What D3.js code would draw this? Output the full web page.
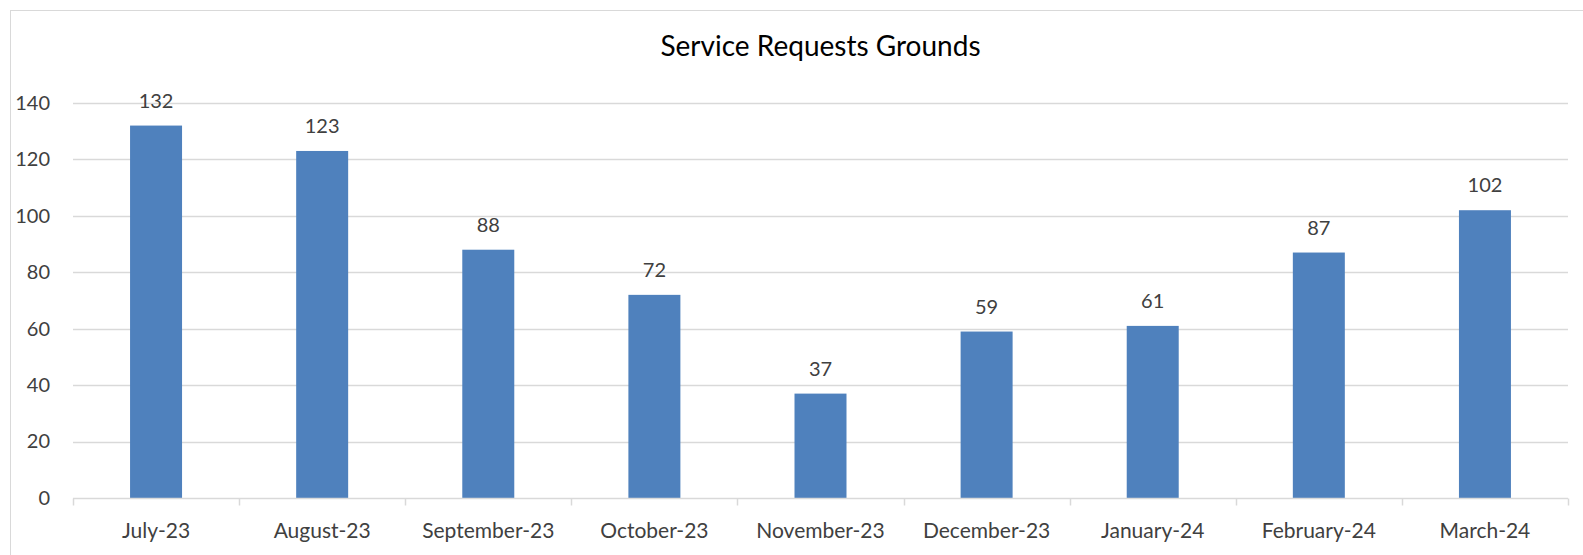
<!DOCTYPE html>
<html>
<head>
<meta charset="utf-8">
<script src="https://cdn.jsdelivr.net/npm/d3@7"></script>
<style>
  html, body { margin: 0; padding: 0; background: #fff; }
  svg { display: block; font-family: Lato, "Open Sans", sans-serif; }
</style>
</head>
<body>
<div id="viz"></div>
<script>
const months = ['July-23', 'August-23', 'September-23', 'October-23', 'November-23',
  'December-23', 'January-24', 'February-24', 'March-24'];
const requests = [132, 123, 88, 72, 37, 59, 61, 87, 102];
const yTicks = [0, 20, 40, 60, 80, 100, 120, 140];
const chartTitle = 'Service Requests Grounds';

const width = 1583;
const height = 555;
const margin = {top: 103, right: 15, bottom: 57, left: 73};
const barColor = '#4f81bd';
const gridColor = '#d9d9d9';
const textColor = '#404040';

const data = months.map((m, i) => ({month: m, value: requests[i]}));

const svg = d3.select('#viz')
  .append('svg')
  .attr('width', width)
  .attr('height', height);

// chart frame
svg.append('rect')
  .attr('x', 10.5)
  .attr('y', 10.5)
  .attr('width', width)
  .attr('height', height)
  .attr('fill', 'none')
  .attr('stroke', gridColor);

const xScale = d3.scaleBand()
  .domain(months)
  .range([margin.left, width - margin.right])
  .paddingInner(0.687)
  .paddingOuter(0.3435);

const yScale = d3.scaleLinear()
  .domain([0, 140])
  .range([height - margin.bottom, margin.top]);

// gridlines
svg.append('g')
  .selectAll('line')
  .data(yTicks.filter(d => d > 0))
  .join('line')
    .attr('x1', margin.left)
    .attr('x2', width - margin.right)
    .attr('y1', d => Math.round(yScale(d)) + 0.5)
    .attr('y2', d => Math.round(yScale(d)) + 0.5)
    .attr('stroke', gridColor)
    .attr('stroke-width', 1.5);

// y axis labels
const yAxis = svg.append('g')
  .attr('transform', `translate(${margin.left}, 0)`)
  .call(d3.axisLeft(yScale).tickValues(yTicks).tickSize(0).tickPadding(23));
yAxis.select('.domain').remove();
yAxis.selectAll('text')
  .attr('fill', textColor)
  .style('font-size', '20px')
  .style('font-family', 'Lato, sans-serif');

// bars
svg.append('g')
  .selectAll('rect')
  .data(data)
  .join('rect')
    .attr('x', d => xScale(d.month))
    .attr('y', d => yScale(d.value))
    .attr('width', xScale.bandwidth())
    .attr('height', d => yScale(0) - yScale(d.value))
    .attr('fill', barColor);

// x axis with category ticks between bands
const xAxisG = svg.append('g')
  .attr('transform', `translate(0, ${Math.round(yScale(0)) + 0.5})`);
xAxisG.append('line')
  .attr('x1', margin.left)
  .attr('x2', width - margin.right)
  .attr('stroke', gridColor)
  .attr('stroke-width', 1.5);
const step = xScale.step();
const bounds = months.map(m => xScale(m) - xScale.paddingOuter() * step)
  .concat([width - margin.right]);
xAxisG.selectAll('.tick')
  .data(bounds)
  .join('line')
    .attr('class', 'tick')
    .attr('x1', d => Math.round(d) + 0.5)
    .attr('x2', d => Math.round(d) + 0.5)
    .attr('y1', 0)
    .attr('y2', 7)
    .attr('stroke', gridColor)
    .attr('stroke-width', 1.5);
xAxisG.selectAll('.xlabel')
  .data(months)
  .join('text')
    .attr('class', 'xlabel')
    .attr('x', d => xScale(d) + xScale.bandwidth() / 2)
    .attr('y', 39)
    .attr('text-anchor', 'middle')
    .attr('fill', textColor)
    .style('font-size', '21px')
    .text(d => d);

// value labels
svg.append('g')
  .selectAll('text')
  .data(data)
  .join('text')
    .attr('x', d => xScale(d.month) + xScale.bandwidth() / 2)
    .attr('y', d => yScale(d.value) - 18)
    .attr('text-anchor', 'middle')
    .attr('fill', textColor)
    .style('font-size', '20px')
    .text(d => d.value);

// title
svg.append('text')
  .attr('x', (margin.left + width - margin.right) / 2)
  .attr('y', 56)
  .attr('text-anchor', 'middle')
  .attr('fill', '#000')
  .style('font-size', '28px')
  .text(chartTitle);
</script>
</body>
</html>
